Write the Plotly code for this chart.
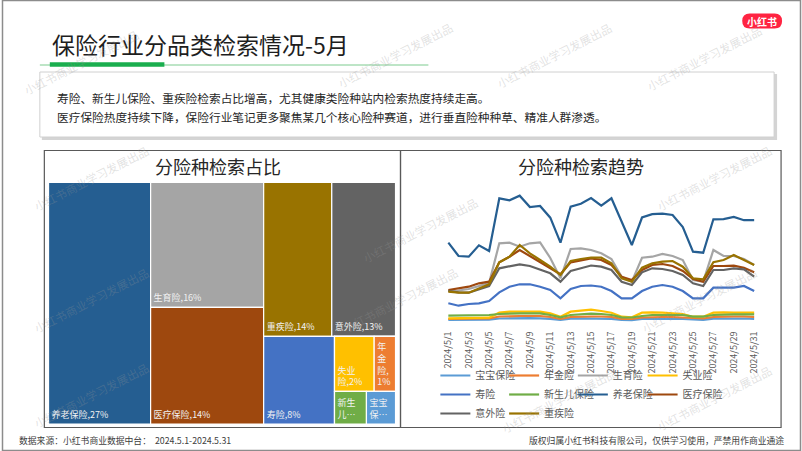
import plotly.graph_objects as go

W, H = 802, 451
FONT = "Noto Sans CJK SC"

def px(x):
    return x / W

def py(y):
    return 1 - y / H

# ---------------- Treemap data ----------------
ins_types = ["养老保险", "生育险", "医疗保险", "重疾险", "意外险",
             "寿险", "失业险", "年金险", "新生儿保险", "宝宝保险"]
share = [29.4, 16.85, 15.7, 12.5, 11.7, 7.4, 2.6, 1.4, 1.24, 1.13]
share_text = ["养老保险,27%", "生育险,16%", "医疗保险,14%", "重疾险,14%", "意外险,13%",
              "寿险,8%", "失业<br>险,2%", "年<br>金<br>险,<br>1%", "新生<br>儿…", "宝宝<br>保…"]
type_colors = {
    "宝宝保险": "#5B9BD5", "年金险": "#ED7D31", "生育险": "#A5A5A5", "失业险": "#FFC000",
    "寿险": "#4472C4", "新生儿保险": "#70AD47", "养老保险": "#255E91", "医疗保险": "#9E480E",
    "意外险": "#636363", "重疾险": "#997300",
}
# nesting used only to reproduce the Excel tile arrangement
tile_tree = ["养老保险", ["生育险", "医疗保险"],
             [["重疾险", "意外险"], ["寿险", [["失业险", "年金险"], ["新生儿保险", "宝宝保险"]]]]]

# ---------------- Line chart data ----------------
days = [f"2024/5/{d}" for d in range(1, 32)]
trend = {
    "宝宝保险": [2, 2, 2, 2.2, 2.4, 3.5, 3.8, 3.8, 3.8, 3.6, 3.2, 2, 3.4, 3.6, 3.7, 3.6, 3.2, 2, 1.9, 3, 3.3, 3.4, 3.3, 3, 2.2, 2.1, 3.3, 3.5, 3.5, 3.5, 3.2],
    "年金险": [3, 3, 3, 3.2, 3.5, 5.5, 6, 6, 6, 6, 5, 3, 5, 5.5, 5.5, 5.5, 5, 3.2, 3, 4.5, 5, 5, 5, 4.5, 3.5, 3.5, 5, 5.5, 5.5, 5.5, 5],
    "生育险": [31, 31.5, 33, 36, 39, 78.7, 79.3, 75.3, 78.7, 79.7, 64, 43.7, 73, 73.7, 72, 68.7, 63, 45.3, 40.3, 64.3, 65.3, 68, 66, 62, 42, 40.3, 72, 66, 66, 63, 57],
    "失业险": [3.7, 3.7, 3.7, 4, 4.3, 9.3, 10.3, 10.3, 10.3, 10.3, 8.7, 5.3, 10.3, 11.3, 12.3, 11, 9.3, 5.3, 4.7, 9.3, 9.7, 9.3, 8.7, 8, 5.3, 5.3, 9.3, 9.7, 9.3, 9.3, 9.3],
    "寿险": [18.7, 16.3, 18, 18.7, 21, 29.7, 35.3, 37.7, 37.7, 35.3, 32, 23.7, 33, 36, 36.5, 35.3, 31, 23.7, 23.7, 31, 35.3, 37, 35.3, 31, 23.7, 23.7, 34.3, 34.3, 34.3, 36, 31],
    "新生儿保险": [6.3, 6.3, 6.5, 6.7, 7, 8, 8.7, 8.7, 8.7, 8.7, 7, 4.7, 7, 7.5, 8.3, 8, 7, 4.7, 4.5, 6, 7, 7, 7, 7, 5.3, 5.3, 7, 7.7, 7.7, 7.7, 7.7],
    "养老保险": [79.3, 66, 65.3, 76.7, 71, 123.7, 121.7, 126.3, 115, 116, 104.3, 79.3, 115.3, 118.3, 124, 116.3, 123.7, 100.3, 77, 104.5, 107.8, 108.3, 107, 95, 70.3, 69.3, 102.7, 102.8, 105, 101.8, 101.8],
    "医疗保险": [32, 33.7, 35.3, 38.7, 40.3, 59.7, 65.3, 72, 66, 59.7, 53.7, 47.7, 59.7, 62, 63.7, 62, 57, 45.3, 42, 52, 57, 58, 56, 51, 43, 40.3, 56, 56, 56.3, 54.3, 49.7],
    "意外险": [31, 29.7, 29.3, 33, 36, 53.7, 56, 57.7, 56, 52.7, 48.7, 40.3, 51, 53.7, 56.5, 55.3, 52, 40.3, 37, 49.7, 53.7, 53, 51, 47, 38.7, 36, 52, 52, 53.7, 52.7, 45.3],
    "重疾险": [30.3, 29.3, 29.3, 33.7, 37.7, 59.7, 65.3, 77, 68.7, 62, 55.3, 47, 61, 63, 64.5, 64.3, 58.7, 43.7, 40.3, 54.3, 58.7, 60.3, 61, 55.3, 43.7, 42.7, 59.7, 62, 67, 62, 57],
}
# legend columns as laid out in the reference (4 columns)
legend_columns = [["宝宝保险", "寿险", "意外险"], ["年金险", "新生儿保险", "重疾险"],
                  ["生育险", "养老保险"], ["失业险", "医疗保险"]]

# ---------------- build treemap hierarchy ----------------
ids, parents, labels, vals, colors, texts = [], [], [], [], [], []
counter = [0]

def add_node(node, parent_id):
    if isinstance(node, str):
        i = ins_types.index(node)
        ids.append(node); parents.append(parent_id); labels.append(node)
        vals.append(share[i]); colors.append(type_colors[node]); texts.append(share_text[i])
    else:
        counter[0] += 1
        gid = f"grp{counter[0]}"
        ids.append(gid); parents.append(parent_id); labels.append("")
        vals.append(0); colors.append("rgba(0,0,0,0)"); texts.append("")
        for child in node:
            add_node(child, gid)

add_node(tile_tree, "")

fig = go.Figure()

fig.add_trace(go.Treemap(
    ids=ids, parents=parents, labels=labels, values=vals,
    branchvalues="remainder", sort=False,
    tiling=dict(packing="slice-dice", pad=0),
    marker=dict(colors=colors, line=dict(color="white", width=1.2),
                pad=dict(t=0, l=0, r=0, b=0)),
    text=texts, textinfo="text", textposition="bottom left",
    textfont=dict(family=FONT, size=9, color="#F2F2F2"),
    pathbar=dict(visible=False), hoverinfo="skip",
    domain=dict(x=[px(46.7), px(395)], y=[py(424), py(182.3)]),
))

legend_of = {}
for ci, col in enumerate(legend_columns):
    for name in col:
        legend_of[name] = "legend" if ci == 0 else f"legend{ci + 1}"

for name, ys in trend.items():
    fig.add_trace(go.Scatter(
        x=days, y=ys, mode="lines", name=name,
        line=dict(color=type_colors[name], width=2.2),
        hoverinfo="skip", legend=legend_of[name],
    ))

fig.update_xaxes(
    domain=[px(442.9), px(760.1)], type="category", range=[-0.5, 30.5],
    tickvals=days[::2], ticktext=days[::2], tickangle=-90,
    tickfont=dict(family=FONT, size=9, color="#595959"),
    showgrid=False, zeroline=False, showline=False,
    ticks="outside", ticklen=5, tickcolor="rgba(0,0,0,0)",
)
fig.update_yaxes(
    domain=[py(322), py(190)], range=[0, 132],
    visible=False, showgrid=False, zeroline=False,
)

def rounded_rect_path(x0, y0, x1, y1, r):
    pts = [
        f"M {px(x0 + r)},{py(y0)}", f"L {px(x1 - r)},{py(y0)}",
        f"Q {px(x1)},{py(y0)} {px(x1)},{py(y0 + r)}", f"L {px(x1)},{py(y1 - r)}",
        f"Q {px(x1)},{py(y1)} {px(x1 - r)},{py(y1)}", f"L {px(x0 + r)},{py(y1)}",
        f"Q {px(x0)},{py(y1)} {px(x0)},{py(y1 - r)}", f"L {px(x0)},{py(y0 + r)}",
        f"Q {px(x0)},{py(y0)} {px(x0 + r)},{py(y0)}", "Z",
    ]
    return " ".join(pts)

shapes = []
# page border
shapes.append(dict(type="rect", xref="paper", yref="paper", x0=px(0.5), x1=px(801.5),
                   y0=py(450.5), y1=py(0.5), line=dict(color="#8C8C8C", width=1.5)))
# title underline
shapes.append(dict(type="line", xref="paper", yref="paper", x0=px(38), x1=px(428),
                   y0=py(65), y1=py(65), line=dict(color="#7DCB8F", width=1)))
shapes.append(dict(type="rect", xref="paper", yref="paper", x0=px(48), x1=px(163),
                   y0=py(66.7), y1=py(62.3), fillcolor="#1AAE4E", line=dict(width=0)))
# text box with shadow
shapes.append(dict(type="rect", xref="paper", yref="paper", x0=px(40), x1=px(778),
                   y0=py(140), y1=py(74), fillcolor="#D4D4D4", line=dict(width=0), layer="below"))
shapes.append(dict(type="rect", xref="paper", yref="paper", x0=px(38), x1=px(775),
                   y0=py(137), y1=py(72), fillcolor="white", line=dict(color="#D0D0D0", width=1),
                   layer="below"))
# panels
shapes.append(dict(type="rect", xref="paper", yref="paper", x0=px(42.5), x1=px(400),
                   y0=py(427.5), y1=py(150.5), line=dict(color="#595959", width=1.2)))
shapes.append(dict(type="rect", xref="paper", yref="paper", x0=px(400), x1=px(782),
                   y0=py(427.5), y1=py(150.5), line=dict(color="#595959", width=1.2)))
# logo pill
shapes.append(dict(type="path", xref="paper", yref="paper",
                   path=rounded_rect_path(743, 13.5, 783, 28.5, 7.5),
                   fillcolor="#FF2442", line=dict(width=0)))

ann = []
ann.append(dict(text="保险行业分品类检索情况-5月", x=px(48), y=py(44.5), xanchor="left", yanchor="middle",
                font=dict(family=FONT, size=23, color="#1E1E1E")))
ann.append(dict(text="寿险、新生儿保险、重疾险检索占比增高，尤其健康类险种站内检索热度持续走高。",
                x=px(53), y=py(97), xanchor="left", yanchor="middle",
                font=dict(family=FONT, size=11.7, color="#262626")))
ann.append(dict(text="医疗保险热度持续下降，保险行业笔记更多聚焦某几个核心险种赛道，进行垂直险种种草、精准人群渗透。",
                x=px(53), y=py(116), xanchor="left", yanchor="middle",
                font=dict(family=FONT, size=11.7, color="#262626")))
ann.append(dict(text="分险种检索占比", x=px(217), y=py(165.5), xanchor="center", yanchor="middle",
                font=dict(family=FONT, size=18, color="#262626")))
ann.append(dict(text="分险种检索趋势", x=px(581), y=py(165.5), xanchor="center", yanchor="middle",
                font=dict(family=FONT, size=18, color="#262626")))
ann.append(dict(text="数据来源：小红书商业数据中台：  2024.5.1-2024.5.31", x=px(15), y=py(440),
                xanchor="left", yanchor="middle", font=dict(family=FONT, size=8.8, color="#404040")))
ann.append(dict(text="版权归属小红书科技有限公司，仅供学习使用，严禁用作商业通途", x=px(787), y=py(440),
                xanchor="right", yanchor="middle", font=dict(family=FONT, size=8.8, color="#404040")))
ann.append(dict(text="<b>小红书</b>", x=px(763), y=py(21.3), xanchor="center", yanchor="middle",
                font=dict(family=FONT, size=10, color="white")))
# watermarks
wm_pos = [(80, 62), (395, 55), (555, 55), (705, 58),
          (90, 178), (420, 230), (715, 178),
          (90, 300), (400, 300), (700, 300),
          (90, 395), (560, 400), (715, 398)]
for (wx, wy) in wm_pos:
    ann.append(dict(text="小红书商业学习发展出品", x=px(wx), y=py(wy), xanchor="center", yanchor="middle",
                    textangle=-27, font=dict(family=FONT, size=11.5, color="rgba(150,150,150,0.28)")))
for a in ann:
    a.update(xref="paper", yref="paper", showarrow=False)

legend_x = [435, 504, 573, 643]
leg_common = dict(orientation="v", y=py(361), xanchor="left", yanchor="top",
                  itemwidth=30, font=dict(family=FONT, size=10, color="#595959"),
                  bgcolor="rgba(0,0,0,0)", borderwidth=0, tracegroupgap=0, traceorder="normal")
legends = {}
for ci, lx in enumerate(legend_x):
    key = "legend" if ci == 0 else f"legend{ci + 1}"
    legends[key] = dict(x=px(lx), **leg_common)

fig.update_layout(
    width=W, height=H, margin=dict(l=0, r=0, t=0, b=0),
    paper_bgcolor="white", plot_bgcolor="rgba(0,0,0,0)",
    font=dict(family=FONT),
    shapes=shapes, annotations=ann,
    showlegend=True,
    **legends,
)

fig.write_html("out.html")
